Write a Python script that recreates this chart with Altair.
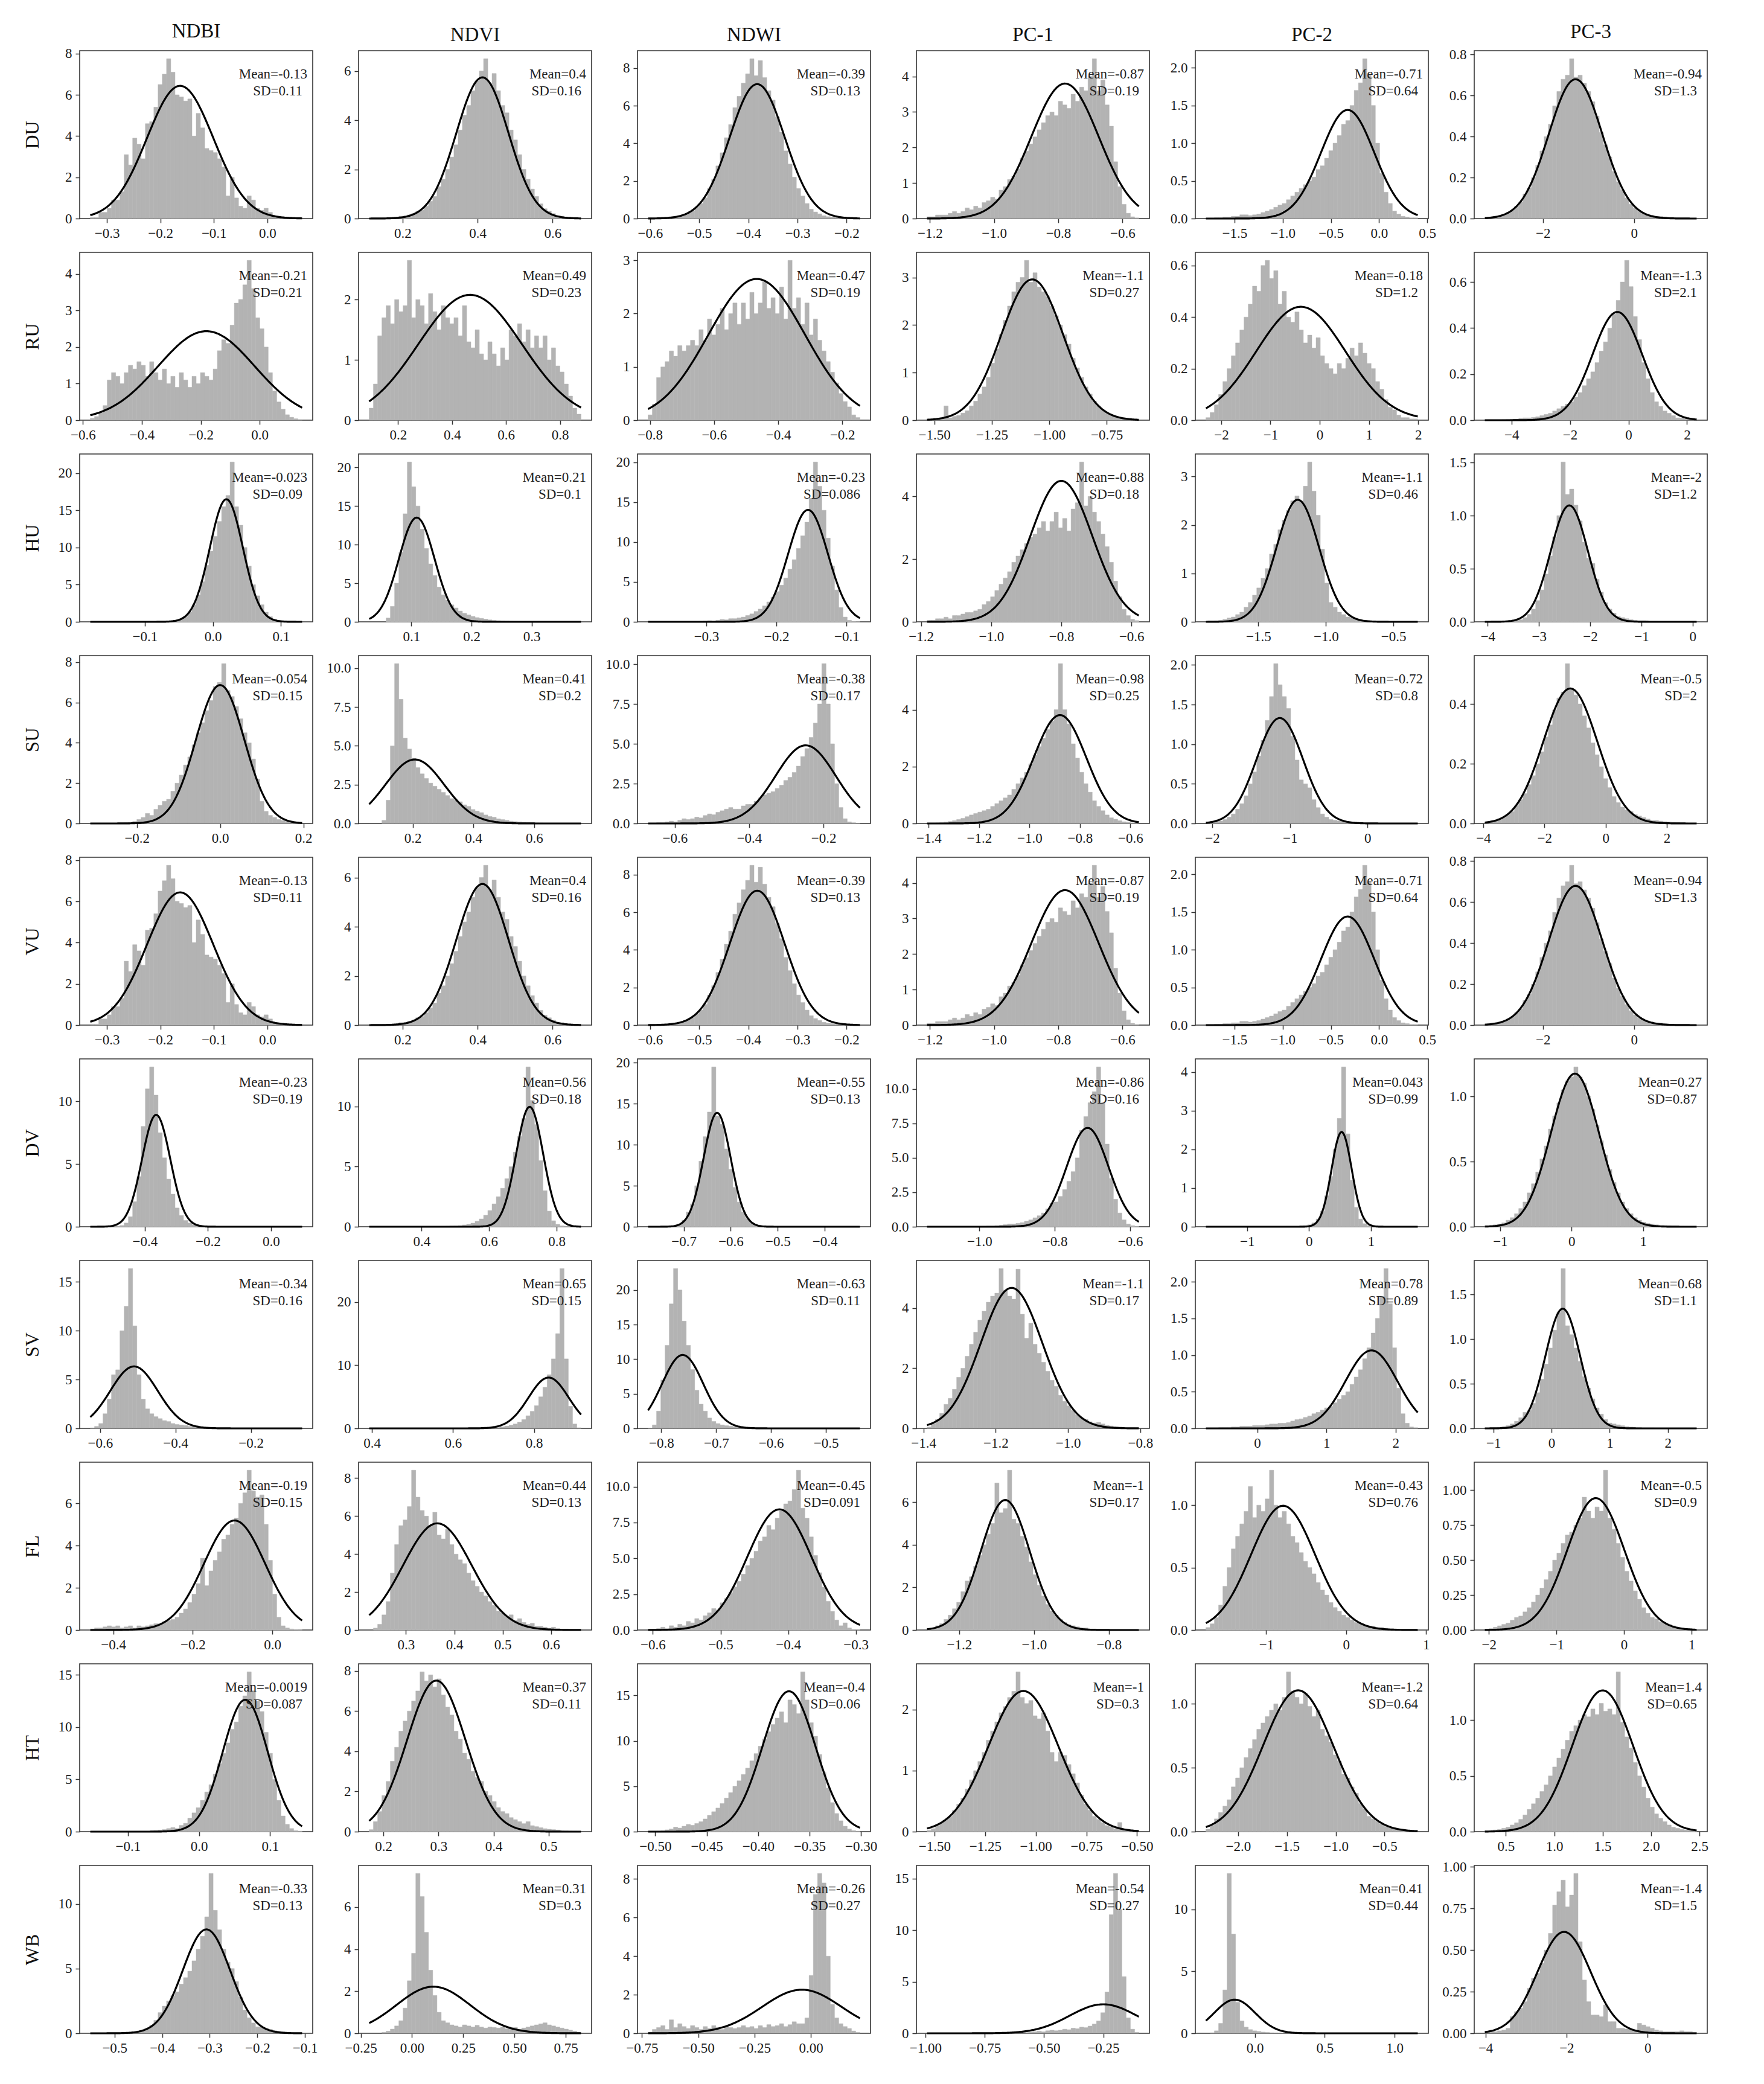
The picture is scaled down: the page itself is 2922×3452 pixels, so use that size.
import math
import altair as alt
import pandas as pd

ROWS = ["DU", "RU", "HU", "SU", "VU", "DV", "SV", "FL", "HT", "WB"]
COLS = ["NDBI", "NDVI", "NDWI", "PC-1", "PC-2", "PC-3"]
KEYS = ["NDBI", "NDVI", "NDWI", "PC1", "PC2", "PC3"]

# ---------------- DU ----------------
DU_NDBI = [0.05,0.05,0.3,0.3,0.5,0.9,0.9,1.3,3.1,2.6, 3.9,3.6,2.9,4.6,4.7,5.4,6.5,7.0,7.75,7.1, 6.0,5.9,5.7,5.8,4.0,5.1,4.4,3.4,3.3,3.2, 2.9,2.5,1.1,2.0,1.0,0.6,0.5,1.1,0.9,0.5, 0.4,0.5,0.3,0.1,0.1,0.05,0.05,0.05,0.0,0.02]
DU_NDVI = [0,0,0,0.02,0.02,0.05,0.05,0.1,0.1,0.15, 0.2,0.3,0.35,0.5,0.7,0.9,1.3,1.6,2.0,2.5, 3.0,3.6,4.2,4.6,5.2,5.6,6.0,6.5,5.5,5.9, 5.2,4.6,4.3,3.6,3.2,2.6,2.0,1.6,1.2,0.9, 0.6,0.4,0.3,0.2,0.1,0.1,0.05,0.02,0.02,0.01]
DU_NDWI = [0.02,0.02,0.05,0.05,0.05,0.1,0.1,0.15,0.2,0.3, 0.4,0.6,0.8,1.1,1.6,2.1,2.8,3.5,4.3,5.0, 5.9,6.5,7.2,7.7,8.5,7.6,8.4,7.5,6.8,6.3, 5.4,4.6,3.6,2.9,2.2,1.6,1.2,0.8,0.5,0.35, 0.25,0.15,0.1,0.08,0.05,0.03,0.02,0.02,0.01,0.01]
DU_PC1 = [0.05,0.05,0.1,0.1,0.1,0.15,0.2,0.15,0.2,0.3, 0.25,0.35,0.3,0.45,0.5,0.6,0.55,0.8,0.9,1.1, 1.2,1.4,1.7,1.9,2.1,2.3,2.5,2.7,2.9,3.0, 2.9,3.3,3.2,3.1,3.5,3.3,3.7,3.6,4.0,4.5, 3.6,3.9,3.2,2.6,1.6,0.9,0.4,0.15,0.05,0.02]
DU_PC2 = [0,0,0.01,0.01,0.02,0.02,0.03,0.03,0.05,0.05, 0.04,0.05,0.06,0.08,0.1,0.12,0.15,0.18,0.2,0.25, 0.3,0.35,0.4,0.45,0.5,0.55,0.65,0.7,0.8,0.9, 1.0,1.1,1.25,1.3,1.5,1.7,1.8,2.12,1.9,1.5, 1.0,0.6,0.35,0.2,0.1,0.06,0.03,0.02,0.01,0.01]
DU_PC3 = [0.002,0.005,0.01,0.01,0.02,0.03,0.04,0.06,0.08,0.12, 0.15,0.2,0.26,0.33,0.4,0.46,0.55,0.62,0.68,0.7, 0.78,0.69,0.7,0.66,0.62,0.57,0.5,0.42,0.36,0.3, 0.23,0.18,0.14,0.1,0.07,0.05,0.035,0.025,0.02,0.015, 0.01,0.01,0.008,0.005,0.005,0.003,0.002,0.002,0.001,0.001]
DU_RANGE = [(-0.331, 0.065), (0.111, 0.676), (-0.604, -0.173), (-1.209, -0.549), (-1.797, 0.402), (-3.274, 1.373)]
DU_FIT = [(-0.163, 0.062), (0.413, 0.0695), (-0.382, 0.0558), (-0.779, 0.105), (-0.326, 0.277), (-1.284, 0.587)]
DU_MEAN = ["-0.13", "0.4", "-0.39", "-0.87", "-0.71", "-0.94"]
DU_SD = ["0.11", "0.16", "0.13", "0.19", "0.64", "1.3"]
DU_XTICKS = [[-0.3,-0.2,-0.1,0.0], [0.2,0.4,0.6], [-0.6,-0.5,-0.4,-0.3,-0.2], [-1.2,-1.0,-0.8,-0.6], [-1.5,-1.0,-0.5,0.0,0.5], [-2,0]]
DU_YTICKS = [[0,2,4,6,8], [0,2,4,6], [0,2,4,6,8], [0,1,2,3,4], [0.0,0.5,1.0,1.5,2.0], [0.0,0.2,0.4,0.6,0.8]]

# ---------------- RU ----------------
RU_NDBI = [0.05,0.1,0.2,0.4,1.1,1.3,1.2,1.0,1.3,1.5, 1.4,1.6,1.5,1.2,1.6,1.3,1.1,1.4,1.0,1.2, 0.9,1.3,1.1,0.9,1.2,1.0,1.3,1.2,1.1,1.4, 1.9,2.2,2.1,2.6,3.2,3.3,3.7,4.37,3.6,2.8, 2.5,2.0,1.3,0.8,0.5,0.3,0.15,0.08,0.04,0.02]
RU_NDVI = [0.2,0.6,1.4,1.7,1.9,1.6,2.0,1.8,1.9,2.65, 1.7,2.0,1.9,1.6,2.1,1.8,1.5,1.9,1.7,1.6, 1.7,1.4,1.9,1.3,1.2,1.5,1.1,1.0,1.3,1.1, 0.9,1.2,1.0,1.5,1.4,1.6,1.3,1.5,1.2,1.4, 1.2,1.4,1.0,1.2,0.9,0.8,0.6,0.4,0.2,0.1]
RU_NDWI = [0.1,0.3,0.8,1.0,1.1,1.3,1.2,1.4,1.3,1.4, 1.5,1.4,1.7,1.5,1.9,1.6,1.8,2.1,1.7,2.0, 2.2,1.8,2.2,1.9,2.4,2.0,2.2,2.6,2.1,2.3, 2.0,2.5,1.9,3.0,2.1,2.3,1.8,2.2,1.6,1.9, 1.5,1.3,1.1,0.9,0.7,0.5,0.35,0.25,0.1,0.05]
RU_PC1 = [0.01,0.02,0.02,0.05,0.3,0.05,0.08,0.1,0.15,0.2, 0.3,0.4,0.55,0.7,0.9,1.2,1.5,1.8,2.1,2.4, 2.7,2.9,3.0,3.36,2.9,3.1,2.8,2.7,2.6,2.4, 2.2,2.0,1.8,1.6,1.3,1.1,0.9,0.7,0.55,0.4, 0.3,0.22,0.15,0.1,0.07,0.05,0.03,0.02,0.01,0.01]
RU_PC2 = [0.01,0.03,0.06,0.1,0.15,0.2,0.25,0.3,0.35,0.4, 0.45,0.52,0.5,0.6,0.62,0.55,0.58,0.45,0.5,0.4, 0.38,0.42,0.35,0.3,0.33,0.28,0.32,0.25,0.22,0.2, 0.18,0.22,0.2,0.24,0.28,0.25,0.3,0.26,0.22,0.2, 0.15,0.12,0.08,0.05,0.04,0.02,0.01,0.01,0.005,0.005]
RU_PC3 = [0,0,0,0,0.002,0.003,0.005,0.005,0.008,0.01, 0.01,0.012,0.015,0.02,0.025,0.03,0.04,0.05,0.06,0.07, 0.08,0.1,0.12,0.15,0.18,0.21,0.25,0.3,0.34,0.4, 0.46,0.52,0.6,0.694,0.58,0.45,0.35,0.25,0.18,0.12, 0.08,0.06,0.04,0.03,0.02,0.01,0.008,0.005,0.003,0.002]
RU_RANGE = [(-0.575, 0.144), (0.093, 0.878), (-0.806, -0.145), (-1.532, -0.610), (-2.311, 1.991), (-4.91, 2.33)]
RU_FIT = [(-0.181, 0.164), (0.467, 0.192), (-0.467, 0.1505), (-1.074, 0.1348), (-0.383, 0.907), (-0.38, 0.849)]
RU_MEAN = ["-0.21", "0.49", "-0.47", "-1.1", "-0.18", "-1.3"]
RU_SD = ["0.21", "0.23", "0.19", "0.27", "1.2", "2.1"]
RU_XTICKS = [[-0.6,-0.4,-0.2,0.0], [0.2,0.4,0.6,0.8], [-0.8,-0.6,-0.4,-0.2], [-1.50,-1.25,-1.00,-0.75], [-2,-1,0,1,2], [-4,-2,0,2]]
RU_YTICKS = [[0,1,2,3,4], [0,1,2], [0,1,2,3], [0,1,2,3], [0.0,0.2,0.4,0.6], [0.0,0.2,0.4,0.6]]

# ---------------- HU ----------------
HU_NDBI = [0,0,0,0,0,0,0,0,0,0, 0,0,0,0,0.01,0.01,0.02,0.03,0.05,0.1, 0.2,0.4,0.7,1.3,2.3,3.6,5.4,7.6,9.5,11.5, 13.5,15.5,17.0,21.5,15.5,13.0,10.0,7.5,5.0,3.5, 2.3,1.3,0.7,0.35,0.2,0.1,0.05,0.03,0.02,0.01]
HU_NDVI = [0,0,0,0,0.5,2.0,5.0,9.0,14.0,20.7, 17.5,15.0,12.0,9.5,7.5,6.0,4.5,3.5,2.8,2.2, 1.8,1.4,1.1,0.9,0.7,0.55,0.45,0.35,0.25,0.2, 0.15,0.12,0.1,0.08,0.06,0.05,0.04,0.03,0.02,0.02, 0.01,0.01,0.01,0.01,0.01,0.005,0.005,0.005,0.005,0.005]
HU_NDWI = [0,0,0,0,0,0,0,0,0,0.01, 0.02,0.03,0.05,0.1,0.15,0.1,0.2,0.3,0.25,0.4, 0.4,0.5,0.6,0.8,1.0,1.3,1.6,2.0,2.5,3.1, 3.8,4.6,5.5,6.6,7.8,9.2,10.8,12.5,15.5,20.05, 17.0,14.0,10.5,7.0,4.0,1.8,0.6,0.2,0.05,0.02]
HU_PC1 = [0.05,0.05,0.1,0.1,0.15,0.1,0.2,0.2,0.25,0.3, 0.3,0.35,0.4,0.55,0.65,0.8,1.0,1.2,1.4,1.6, 1.9,2.1,2.3,2.5,2.7,2.8,3.0,3.2,2.9,3.2, 3.5,3.0,3.3,2.9,3.6,3.8,5.1,3.7,4.0,3.5, 3.2,2.8,2.4,1.9,1.3,0.8,0.4,0.2,0.08,0.04]
HU_PC2 = [0,0.01,0.02,0.03,0.05,0.08,0.1,0.15,0.2,0.3, 0.4,0.55,0.7,0.9,1.1,1.4,1.6,1.9,2.1,2.3, 2.5,2.6,2.5,2.8,3.3,2.7,2.2,1.5,0.8,0.4, 0.3,0.2,0.15,0.1,0.08,0.05,0.04,0.03,0.02,0.02, 0.01,0.01,0.01,0.005,0.005,0,0,0,0,0]
HU_PC3 = [0,0,0,0.005,0.005,0.01,0.01,0.02,0.02,0.04, 0.07,0.12,0.2,0.3,0.45,0.62,0.8,1.0,1.505,1.2, 1.25,1.1,0.95,0.75,0.6,0.55,0.4,0.28,0.18,0.12, 0.08,0.05,0.04,0.03,0.02,0.015,0.01,0.01,0.005,0.005, 0.005,0.003,0.002,0.002,0.001,0.001,0,0,0,0]
HU_RANGE = [(-0.180, 0.131), (0.030, 0.382), (-0.383, -0.081), (-1.183, -0.579), (-1.888, -0.320), (-4.057, 0.079)]
HU_FIT = [(0.0198, 0.0242), (0.109, 0.02955), (-0.155, 0.0284), (-0.80, 0.0887), (-1.208, 0.1583), (-2.407, 0.364)]
HU_MEAN = ["-0.023", "0.21", "-0.23", "-0.88", "-1.1", "-2"]
HU_SD = ["0.09", "0.1", "0.086", "0.18", "0.46", "1.2"]
HU_XTICKS = [[-0.1,0.0,0.1], [0.1,0.2,0.3], [-0.3,-0.2,-0.1], [-1.2,-1.0,-0.8,-0.6], [-1.5,-1.0,-0.5], [-4,-3,-2,-1,0]]
HU_YTICKS = [[0,5,10,15,20], [0,5,10,15,20], [0,5,10,15,20], [0,2,4], [0,1,2,3], [0.0,0.5,1.0,1.5]]

# ---------------- SU ----------------
SU_NDBI = [0,0,0,0,0,0,0.01,0.02,0.03,0.05, 0.1,0.2,0.3,0.5,0.4,0.7,0.9,1.1,1.2,1.6, 2.0,2.4,2.9,3.3,3.9,4.5,5.0,5.6,6.1,6.8, 7.0,7.93,6.6,6.3,5.8,5.2,4.5,4.0,3.2,2.2, 1.1,0.6,0.4,0.3,0.2,0.15,0.1,0.05,0.03,0.02]
SU_NDVI = [0,0,0,0.2,1.5,5.0,10.3,8.0,5.5,4.8, 4.2,3.6,3.2,2.9,2.6,2.4,2.2,2.0,1.8,1.6, 1.5,1.4,1.2,1.1,0.9,0.8,0.7,0.55,0.45,0.4, 0.3,0.25,0.2,0.15,0.12,0.1,0.08,0.06,0.05,0.04, 0.03,0.02,0.02,0.01,0.01,0.01,0.005,0.005,0.005,0.005]
SU_NDWI = [0,0.02,0.05,0.05,0.1,0.15,0.1,0.2,0.3,0.25, 0.3,0.4,0.35,0.5,0.6,0.55,0.7,0.8,0.9,1.0, 0.9,0.9,1.1,1.2,1.2,1.4,1.6,1.8,1.9,2.0, 2.2,2.4,2.7,2.9,3.2,3.6,4.2,4.7,5.4,6.3, 7.5,10.03,7.5,5.0,2.5,1.0,0.3,0.1,0.05,0.02]
SU_PC1 = [0,0.01,0.02,0.03,0.05,0.07,0.1,0.14,0.18,0.24, 0.3,0.35,0.4,0.45,0.5,0.6,0.7,0.8,0.9,1.0, 1.2,1.4,1.6,1.8,2.1,2.4,2.7,3.0,3.3,3.6, 4.0,5.62,4.0,3.5,2.8,2.3,1.8,1.4,1.1,0.8, 0.6,0.45,0.3,0.2,0.15,0.1,0.06,0.04,0.02,0.01]
SU_PC2 = [0,0.01,0.02,0.03,0.05,0.08,0.12,0.18,0.25,0.35, 0.5,0.65,0.85,1.05,1.3,1.6,2.016,1.75,1.6,1.45, 1.1,0.8,0.55,0.5,0.45,0.3,0.2,0.12,0.08,0.05, 0.04,0.03,0.02,0.02,0.01,0.01,0.01,0.005,0.005,0.005, 0.005,0.003,0.002,0.002,0.001,0,0,0,0,0]
SU_PC3 = [0.003,0.006,0.01,0.015,0.02,0.03,0.04,0.06,0.08,0.1, 0.13,0.16,0.2,0.24,0.29,0.33,0.38,0.42,0.44,0.535, 0.45,0.43,0.4,0.36,0.32,0.27,0.23,0.19,0.15,0.12, 0.09,0.07,0.055,0.045,0.04,0.03,0.025,0.02,0.015,0.01, 0.01,0.008,0.006,0.005,0.004,0.003,0.002,0.002,0.001,0.001]
SU_RANGE = [(-0.312, 0.197), (0.057, 0.754), (-0.672, -0.102), (-1.407, -0.566), (-2.081, 0.646), (-3.948, 2.974)]
SU_FIT = [(0.0, 0.0581), (0.207, 0.0968), (-0.248, 0.0814), (-0.879, 0.1047), (-1.13, 0.30), (-1.154, 0.883)]
SU_MEAN = ["-0.054", "0.41", "-0.38", "-0.98", "-0.72", "-0.5"]
SU_SD = ["0.15", "0.2", "0.17", "0.25", "0.8", "2"]
SU_XTICKS = [[-0.2,0.0,0.2], [0.2,0.4,0.6], [-0.6,-0.4,-0.2], [-1.4,-1.2,-1.0,-0.8,-0.6], [-2,-1,0], [-4,-2,0,2]]
SU_YTICKS = [[0,2,4,6,8], [0.0,2.5,5.0,7.5,10.0], [0.0,2.5,5.0,7.5,10.0], [0,2,4], [0.0,0.5,1.0,1.5,2.0], [0.0,0.2,0.4]]

# ---------------- VU (identical to DU in the source figure) ----------------
VU_NDBI, VU_NDVI, VU_NDWI = DU_NDBI, DU_NDVI, DU_NDWI
VU_PC1, VU_PC2, VU_PC3 = DU_PC1, DU_PC2, DU_PC3
VU_RANGE, VU_FIT, VU_MEAN, VU_SD = DU_RANGE, DU_FIT, DU_MEAN, DU_SD
VU_XTICKS, VU_YTICKS = DU_XTICKS, DU_YTICKS

# ---------------- DV ----------------
DV_NDBI = [0,0,0,0,0.01,0.02,0.05,0.1,0.3,0.8, 2.0,4.0,8.0,11.0,12.75,10.5,7.5,5.5,3.8,2.6, 1.5,0.9,0.5,0.3,0.15,0.1,0.05,0.03,0.02,0.01, 0.01,0.01,0.005,0.005,0,0,0,0,0,0.005, 0,0,0,0,0,0,0,0,0,0]
DV_NDVI = [0,0,0,0,0,0,0,0,0,0, 0,0,0,0.01,0.01,0.02,0.02,0.03,0.05,0.07, 0.08,0.1,0.15,0.2,0.3,0.45,0.65,0.95,1.35,1.9, 2.5,3.2,4.0,5.0,6.2,7.5,9.0,13.29,10.5,8.5, 5.5,3.0,1.3,0.5,0.2,0.08,0.04,0.02,0.01,0.01]
DV_NDWI = [0,0,0,0,0.02,0.05,0.1,0.3,0.8,1.8, 2.8,5.0,8.0,11.0,14.0,19.5,13.5,12.5,9.5,7.0, 4.8,3.0,1.8,1.0,0.5,0.25,0.12,0.06,0.04,0.02, 0.02,0.01,0.01,0.01,0,0,0,0,0,0, 0,0,0,0,0,0,0,0,0,0]
DV_PC1 = [0,0,0,0,0,0,0,0,0,0.01, 0.01,0.02,0.02,0.03,0.05,0.05,0.08,0.1,0.15,0.2, 0.2,0.25,0.3,0.4,0.5,0.65,0.8,1.0,1.3,1.7, 1.8,2.2,2.7,3.3,4.0,5.0,7.0,8.0,9.0,9.8, 11.6,9.0,6.0,3.5,2.0,1.0,0.5,0.2,0.08,0.03]
DV_PC2 = [0,0,0,0,0,0,0,0,0,0, 0,0,0,0,0,0,0,0,0.005,0.01, 0.01,0.01,0.02,0.03,0.05,0.1,0.2,0.4,0.8,1.3, 2.0,2.8,4.13,2.4,1.2,0.5,0.2,0.08,0.03,0.01, 0.01,0.005,0,0,0,0,0,0,0,0]
DV_PC3 = [0.005,0.01,0.015,0.02,0.03,0.05,0.07,0.1,0.14,0.19, 0.26,0.33,0.42,0.52,0.62,0.75,0.85,0.95,1.05,1.12, 1.15,1.226,1.15,1.1,1.0,0.9,0.78,0.66,0.55,0.44, 0.34,0.26,0.19,0.14,0.1,0.07,0.05,0.035,0.025,0.02, 0.015,0.01,0.01,0.008,0.006,0.005,0.004,0.003,0.002,0.001]
DV_RANGE = [(-0.573, 0.099), (0.245, 0.872), (-0.776, -0.325), (-1.139, -0.577), (-1.665, 1.756), (-1.214, 1.75)]
DV_FIT = [(-0.364, 0.0447), (0.72, 0.040), (-0.629, 0.0287), (-0.713, 0.0556), (0.527, 0.163), (0.047, 0.3396)]
DV_MEAN = ["-0.23", "0.56", "-0.55", "-0.86", "0.043", "0.27"]
DV_SD = ["0.19", "0.18", "0.13", "0.16", "0.99", "0.87"]
DV_XTICKS = [[-0.4,-0.2,0.0], [0.4,0.6,0.8], [-0.7,-0.6,-0.5,-0.4], [-1.0,-0.8,-0.6], [-1,0,1], [-1,0,1]]
DV_YTICKS = [[0,5,10], [0,5,10], [0,5,10,15,20], [0.0,2.5,5.0,7.5,10.0], [0,1,2,3,4], [0.0,0.5,1.0]]

# ---------------- SV ----------------
SV_NDBI = [0.05,0.2,0.5,1.5,3.0,5.5,6.0,10.0,12.5,16.37, 10.5,5.5,3.0,2.0,1.5,1.2,1.0,0.8,0.7,0.5, 0.4,0.35,0.3,0.2,0.15,0.1,0.08,0.06,0.05,0.04, 0.03,0.02,0.02,0.01,0.01,0.01,0.005,0.005,0.005,0.005, 0,0,0,0,0,0,0,0,0,0]
SV_NDVI = [0,0,0,0,0,0,0,0,0,0, 0,0,0,0,0,0,0,0,0,0, 0,0,0.01,0.01,0.02,0.03,0.05,0.07,0.1,0.15, 0.15,0.25,0.35,0.5,0.7,1.0,1.4,2.0,2.7,3.6, 5.0,6.5,8.5,11.0,15.0,25.3,11.0,3.5,0.7,0.1]
SV_NDWI = [0.05,0.5,2.5,7.0,12.0,18.0,23.1,20.0,15.5,12.0, 8.5,5.5,3.5,2.5,1.5,1.0,0.7,0.5,0.4,0.3, 0.25,0.2,0.15,0.12,0.1,0.08,0.06,0.05,0.04,0.03, 0.02,0.02,0.01,0.01,0.01,0.005,0.005,0,0,0, 0,0,0,0,0,0,0,0,0,0]
SV_PC1 = [0.05,0.15,0.3,0.5,0.8,1.0,1.3,1.7,2.0,2.4, 2.8,3.2,3.6,3.9,4.2,4.4,4.5,5.32,4.6,4.4, 4.3,5.3,3.8,3.0,3.5,2.8,2.5,2.2,1.9,1.6, 1.4,1.1,0.9,0.75,0.6,0.45,0.35,0.3,0.22,0.18, 0.2,0.15,0.1,0.08,0.06,0.05,0.03,0.02,0.02,0.01]
SV_PC2 = [0,0,0,0.01,0.01,0.01,0.02,0.02,0.03,0.03, 0.03,0.04,0.04,0.04,0.05,0.06,0.06,0.07,0.07,0.08, 0.1,0.12,0.13,0.15,0.17,0.2,0.22,0.25,0.28,0.3, 0.35,0.4,0.45,0.5,0.6,0.7,0.8,0.95,1.1,1.3, 1.5,1.8,2.18,1.7,1.1,0.55,0.2,0.07,0.02,0.01]
SV_PC3 = [0,0,0.005,0.01,0.02,0.03,0.05,0.08,0.12,0.18, 0.2,0.28,0.4,0.55,0.72,0.9,1.1,1.3,1.79,1.15, 1.05,0.9,0.75,0.58,0.45,0.33,0.23,0.16,0.1,0.06, 0.05,0.04,0.03,0.02,0.015,0.01,0.01,0.005,0.005,0.005, 0.003,0.002,0.002,0.001,0.001,0,0,0,0,0]
SV_RANGE = [(-0.626, -0.064), (0.393, 0.916), (-0.824, -0.438), (-1.39, -0.804), (-0.741, 2.319), (-1.147, 2.495)]
SV_FIT = [(-0.510, 0.0629), (0.836, 0.0496), (-0.761, 0.0376), (-1.156, 0.0853), (1.65, 0.375), (0.193, 0.2977)]
SV_MEAN = ["-0.34", "0.65", "-0.63", "-1.1", "0.78", "0.68"]
SV_SD = ["0.16", "0.15", "0.11", "0.17", "0.89", "1.1"]
SV_XTICKS = [[-0.6,-0.4,-0.2], [0.4,0.6,0.8], [-0.8,-0.7,-0.6,-0.5], [-1.4,-1.2,-1.0,-0.8], [0,1,2], [-1,0,1,2]]
SV_YTICKS = [[0,5,10,15], [0,10,20], [0,5,10,15,20], [0,2,4], [0.0,0.5,1.0,1.5,2.0], [0.0,0.5,1.0,1.5]]

# ---------------- FL ----------------
FL_NDBI = [0.05,0.1,0.1,0.15,0.2,0.15,0.2,0.1,0.15,0.2, 0.1,0.2,0.15,0.2,0.25,0.3,0.3,0.4,0.45,0.5, 0.6,0.8,1.0,1.3,1.7,2.2,3.4,2.1,2.8,3.3, 3.7,4.3,4.5,5.0,5.3,6.0,6.5,7.57,6.6,6.3, 6.4,5.0,3.3,1.7,0.6,0.2,0.1,0.05,0.02,0.01]
FL_NDVI = [0,0.1,0.3,0.8,1.5,3.0,4.5,5.5,5.8,6.5, 8.42,7.0,6.3,6.0,5.5,6.2,5.0,4.8,5.3,4.5, 4.0,3.7,3.5,3.0,2.6,2.3,2.0,1.8,1.5,1.3, 1.0,0.9,0.7,0.8,0.5,0.6,0.4,0.3,0.35,0.2, 0.2,0.15,0.1,0.15,0.08,0.05,0.05,0.03,0.02,0.01]
FL_NDWI = [0,0.05,0.1,0.2,0.1,0.3,0.2,0.4,0.3,0.6, 0.5,0.8,0.7,1.0,1.2,1.5,1.4,1.9,2.2,2.6, 3.0,3.4,3.9,4.5,5.0,5.5,6.2,6.5,7.3,7.0, 7.8,8.3,8.8,9.0,9.8,11.15,8.5,7.8,6.5,5.2, 4.0,3.0,2.0,1.3,0.7,0.3,0.5,0.15,0.05,0.02]
FL_PC1 = [0.05,0.1,0.2,0.3,0.5,0.7,1.0,1.3,1.8,2.3, 2.5,3.0,3.5,4.0,4.5,5.0,6.9,5.5,5.7,7.5, 5.2,5.0,4.4,3.9,3.2,2.6,2.1,1.6,1.2,0.9, 0.7,0.5,0.35,0.25,0.2,0.15,0.1,0.1,0.05,0.05, 0.03,0.02,0.02,0.01,0.01,0.01,0.005,0.005,0,0]
FL_PC2 = [0.02,0.05,0.1,0.2,0.35,0.5,0.65,0.75,0.85,0.95, 1.15,0.9,1.0,0.95,1.05,1.28,1.0,0.9,0.95,0.85, 0.75,0.7,0.62,0.55,0.5,0.45,0.38,0.32,0.28,0.22, 0.18,0.15,0.12,0.1,0.08,0.06,0.05,0.04,0.03,0.03, 0.02,0.02,0.015,0.01,0.01,0.005,0.005,0.005,0.003,0.002]
FL_PC3 = [0,0.01,0.02,0.03,0.04,0.05,0.07,0.09,0.1,0.13, 0.16,0.2,0.25,0.3,0.36,0.42,0.5,0.55,0.62,0.68, 0.7,0.75,0.8,0.95,0.85,0.8,0.88,0.85,1.143,0.8, 0.72,0.62,0.52,0.42,0.35,0.28,0.22,0.16,0.12,0.09, 0.08,0.06,0.05,0.04,0.03,0.02,0.015,0.01,0.01,0.005]
FL_RANGE = [(-0.458, 0.075), (0.224, 0.662), (-0.607, -0.294), (-1.286, -0.720), (-1.754, 0.896), (-2.06, 1.076)]
FL_FIT = [(-0.095, 0.0769), (0.365, 0.071), (-0.413, 0.0474), (-1.077, 0.0654), (-0.789, 0.401), (-0.417, 0.423)]
FL_MEAN = ["-0.19", "0.44", "-0.45", "-1", "-0.43", "-0.5"]
FL_SD = ["0.15", "0.13", "0.091", "0.17", "0.76", "0.9"]
FL_XTICKS = [[-0.4,-0.2,0.0], [0.3,0.4,0.5,0.6], [-0.6,-0.5,-0.4,-0.3], [-1.2,-1.0,-0.8], [-1,0,1], [-2,-1,0,1]]
FL_YTICKS = [[0,2,4,6], [0,2,4,6,8], [0.0,2.5,5.0,7.5,10.0], [0,2,4,6], [0.0,0.5,1.0], [0.00,0.25,0.50,0.75,1.00]]

# ---------------- HT ----------------
HT_NDBI = [0,0,0,0,0,0,0,0,0,0, 0,0.01,0.02,0.03,0.05,0.1,0.15,0.2,0.3,0.4, 0.3,0.6,0.8,1.3,1.8,2.3,3.0,3.8,4.5,5.5, 6.5,7.5,8.5,9.8,10.5,12.0,13.0,15.3,13.5,12.5, 11.5,9.5,7.5,5.0,3.0,1.5,0.7,0.3,0.1,0.05]
HT_NDVI = [0.1,0.5,1.0,1.8,2.5,3.5,4.2,5.0,5.5,6.0, 6.5,7.0,7.95,7.5,7.8,7.2,7.6,6.8,6.2,5.8, 5.0,4.6,3.9,3.6,3.0,2.7,2.5,2.0,1.8,1.5, 1.2,1.0,0.9,0.7,0.6,0.5,0.4,0.5,0.3,0.25, 0.2,0.15,0.12,0.1,0.08,0.05,0.04,0.03,0.02,0.01]
HT_NDWI = [0,0,0.05,0.1,0.2,0.3,0.5,0.4,0.6,0.8, 0.7,0.9,1.1,1.4,1.8,2.2,2.6,3.1,3.7,4.3, 5.0,5.6,6.3,7.0,7.8,8.6,9.4,10.2,11.0,11.8, 12.5,13.2,12.0,14.5,14.0,13.0,17.6,14.5,12.0,10.5, 8.5,6.5,4.8,3.2,2.0,1.2,0.6,0.3,0.12,0.05]
HT_PC1 = [0.02,0.05,0.1,0.15,0.2,0.25,0.35,0.45,0.55,0.7, 0.85,1.0,1.15,1.3,1.5,1.65,1.8,1.95,2.05,2.2, 2.3,2.62,2.2,2.1,2.15,1.9,1.85,1.95,1.65,1.3, 1.15,1.3,1.25,1.1,0.95,0.8,0.6,0.45,0.35,0.25, 0.2,0.15,0.1,0.08,0.05,0.15,0.03,0.02,0.01,0.01]
HT_PC2 = [0.02,0.05,0.1,0.15,0.2,0.25,0.35,0.42,0.5,0.58, 0.65,0.72,0.8,0.85,0.9,0.95,1.0,0.95,1.05,1.25, 1.1,1.05,1.0,1.08,0.98,0.9,0.95,0.8,0.75,0.7, 0.6,0.55,0.45,0.42,0.35,0.3,0.22,0.18,0.12,0.1, 0.08,0.06,0.04,0.03,0.02,0.015,0.01,0.01,0.005,0.005]
HT_PC3 = [0.005,0.01,0.015,0.02,0.03,0.04,0.06,0.08,0.11,0.15, 0.2,0.25,0.3,0.36,0.42,0.5,0.58,0.66,0.74,0.82, 0.9,0.95,1.0,1.05,1.03,1.1,1.05,1.15,1.08,1.1, 1.05,1.433,0.98,0.85,0.75,0.62,0.5,0.4,0.3,0.22, 0.16,0.12,0.09,0.06,0.04,0.03,0.02,0.015,0.01,0.005]
HT_RANGE = [(-0.153, 0.145), (0.174, 0.559), (-0.507, -0.301), (-1.537, -0.491), (-2.330, -0.159), (0.283, 2.471)]
HT_FIT = [(0.065, 0.0316), (0.296, 0.0531), (-0.370, 0.0258), (-1.061, 0.173), (-1.385, 0.361), (1.5, 0.315)]
HT_MEAN = ["-0.0019", "0.37", "-0.4", "-1", "-1.2", "1.4"]
HT_SD = ["0.087", "0.11", "0.06", "0.3", "0.64", "0.65"]
HT_XTICKS = [[-0.1,0.0,0.1], [0.2,0.3,0.4,0.5], [-0.50,-0.45,-0.40,-0.35,-0.30], [-1.50,-1.25,-1.00,-0.75,-0.50], [-2.0,-1.5,-1.0,-0.5], [0.5,1.0,1.5,2.0,2.5]]
HT_YTICKS = [[0,5,10,15], [0,2,4,6,8], [0,5,10,15], [0,1,2], [0.0,0.5,1.0], [0.0,0.5,1.0]]

# ---------------- WB ----------------
WB_NDBI = [0,0,0,0,0,0,0.01,0.02,0.03,0.05, 0.08,0.15,0.25,0.4,0.6,1.0,1.6,2.1,2.5,2.9, 3.2,3.8,4.3,4.8,5.6,6.5,7.5,9.0,12.35,9.5, 8.0,6.5,5.5,5.0,4.0,2.8,1.8,1.2,0.8,0.5, 0.5,0.4,0.3,0.2,0.15,0.1,0.08,0.05,0.03,0.02]
WB_NDVI = [0,0,0,0.05,0.1,0.2,0.35,0.6,1.2,2.5, 3.8,7.6,6.5,4.8,3.0,1.8,1.0,0.6,0.5,0.4, 0.35,0.3,0.4,0.35,0.3,0.38,0.3,0.25,0.3,0.28, 0.25,0.3,0.22,0.25,0.28,0.2,0.25,0.3,0.35,0.4, 0.45,0.5,0.4,0.35,0.3,0.25,0.2,0.15,0.1,0.05]
WB_NDWI = [0.05,0.2,0.3,0.4,0.2,0.7,0.3,0.5,0.35,0.25, 0.4,0.3,0.2,0.35,0.25,0.4,0.3,0.2,0.35,0.3, 0.25,0.3,0.4,0.3,0.35,0.25,0.4,0.3,0.45,0.35, 0.4,0.5,0.35,0.45,0.6,0.5,0.5,0.8,3.0,7.2, 8.29,7.8,4.0,1.5,0.8,0.5,0.35,0.25,0.12,0.05]
WB_PC1 = [0,0,0,0,0,0,0,0,0,0, 0,0,0,0,0,0.01,0.01,0.02,0.02,0.03, 0.03,0.05,0.05,0.08,0.1,0.15,0.2,0.15,0.25,0.3, 0.25,0.3,0.4,0.35,0.5,0.45,0.6,0.55,0.7,0.9, 1.2,2.0,4.0,11.5,15.5,12.0,5.5,1.5,0.4,0.1]
WB_PC2 = [0,0.05,0.2,0.8,3.5,12.9,8.0,2.5,1.0,0.5, 0.3,0.2,0.15,0.1,0.08,0.05,0.04,0.03,0.02,0.02, 0.01,0.01,0.01,0.01,0.005,0.005,0.005,0,0,0, 0,0,0,0,0,0,0,0,0,0, 0,0,0,0,0,0,0,0,0,0]
WB_PC3 = [0.005,0.01,0.01,0.015,0.02,0.03,0.1,0.13,0.15,0.19, 0.27,0.33,0.36,0.42,0.5,0.6,0.77,0.85,0.92,0.76, 0.83,0.96,0.55,0.32,0.19,0.11,0.11,0.1,0.17,0.07, 0.07,0.03,0.03,0.025,0.02,0.02,0.06,0.05,0.04,0.03, 0.02,0.015,0.01,0.01,0.01,0.01,0.015,0.01,0.01,0.005]
WB_RANGE = [(-0.551, -0.106), (-0.209, 0.825), (-0.723, 0.218), (-0.993, -0.100), (-0.351, 1.166), (-4.016, 1.211)]
WB_FIT = [(-0.307, 0.0497), (0.104, 0.18), (-0.04, 0.1765), (-0.25, 0.142), (-0.145, 0.147), (-2.06, 0.655)]
WB_MEAN = ["-0.33", "0.31", "-0.26", "-0.54", "0.41", "-1.4"]
WB_SD = ["0.13", "0.3", "0.27", "0.27", "0.44", "1.5"]
WB_XTICKS = [[-0.5,-0.4,-0.3,-0.2,-0.1], [-0.25,0.00,0.25,0.50,0.75], [-0.75,-0.50,-0.25,0.00], [-1.00,-0.75,-0.50,-0.25], [0.0,0.5,1.0], [-4,-2,0]]
WB_YTICKS = [[0,5,10], [0,2,4,6], [0,2,4,6,8], [0,5,10,15], [0,5,10], [0.00,0.25,0.50,0.75,1.00]]

# ---------------- layout / style ----------------
W, H = 386, 278
FONT = "Liberation Serif"
BAR = "#b3b3b3"


def decimals(vals):
    for d in range(4):
        if all(abs(v * 10 ** d - round(v * 10 ** d)) < 1e-6 for v in vals):
            return d
    return 3


def panel(ri, ci):
    row = ROWS[ri]
    g = globals()
    h = g[f"{row}_{KEYS[ci]}"]
    mn, mx = g[f"{row}_RANGE"][ci]
    mu, sd = g[f"{row}_FIT"][ci]
    n = len(h)
    w = (mx - mn) / n
    df = pd.DataFrame({
        "x0": [mn + i * w for i in range(n)],
        "x1": [mn + (i + 1) * w for i in range(n)],
        "h": h,
        "y0": [0.0] * n,
    })
    df = df[df["h"] > 0]
    span = mx - mn
    lo, hi = mn - 0.05 * span, mx + 0.05 * span
    peak = 1.0 / (sd * math.sqrt(2 * math.pi))
    ymax = 1.05 * max(max(h), peak)
    xt = [t for t in g[f"{row}_XTICKS"][ci] if lo <= t <= hi]
    yt = [t for t in g[f"{row}_YTICKS"][ci] if t <= ymax]

    xs = alt.Scale(domain=[lo, hi], nice=False, zero=False)
    ys = alt.Scale(domain=[0, ymax], nice=False, zero=False)
    xax = alt.Axis(values=xt, format=f".{decimals(xt)}f", title=None)
    if ci == 0:
        yax = alt.Axis(values=yt, format=f".{decimals(yt)}f", title=row,
                       titleX=-79, titleY=H / 2, titleAngle=270,
                       titleAlign="center", titleBaseline="middle")
    else:
        yax = alt.Axis(values=yt, format=f".{decimals(yt)}f", title=None)

    bars = alt.Chart(df).mark_rect(color=BAR, stroke=BAR, strokeWidth=0.5).encode(
        x=alt.X("x0:Q", scale=xs, axis=xax),
        x2="x1",
        y=alt.Y("h:Q", scale=ys, axis=yax),
        y2="y0",
    )
    curve = alt.Chart(alt.sequence(0, 201, as_="i")).transform_calculate(
        x0=f"{mn} + datum.i * {span / 200}"
    ).transform_calculate(
        h=f"exp(-0.5 * pow((datum.x0 - ({mu})) / {sd}, 2)) / ({sd} * 2.5066282746)"
    ).mark_line(color="black", strokeWidth=3.2).encode(
        x=alt.X("x0:Q", scale=xs, axis=xax),
        y=alt.Y("h:Q", scale=ys, axis=yax),
    )
    one = pd.DataFrame({"a": [0]})
    t1 = alt.Chart(one).mark_text(
        text="Mean=" + g[f"{row}_MEAN"][ci], align="right", baseline="middle",
        font=FONT, fontSize=23, color="#222222"
    ).encode(x=alt.value(W - 9), y=alt.value(39))
    t2 = alt.Chart(one).mark_text(
        text="SD=" + g[f"{row}_SD"][ci], align="right", baseline="middle",
        font=FONT, fontSize=23, color="#222222"
    ).encode(x=alt.value(W - 17), y=alt.value(67))

    layer = alt.layer(bars, curve, t1, t2)
    if ri == 0:
        layer = layer.properties(
            width=W, height=H,
            title=alt.TitleParams(text=COLS[ci], font=FONT, fontSize=33,
                                  fontWeight="normal", color="#111111",
                                  anchor="middle", offset=9),
        )
    else:
        layer = layer.properties(width=W, height=H)
    return layer


panels = [panel(r, c) for r in range(len(ROWS)) for c in range(len(COLS))]

chart = alt.ConcatChart(
    concat=panels,
    columns=6,
    spacing={"row": 56, "column": 76},
    bounds="flush",
    padding={"left": 28, "top": 26, "right": 10, "bottom": 10},
).resolve_scale(
    x="independent", y="independent"
).configure_view(
    stroke="#333333", strokeWidth=1.6
).configure_axis(
    labelFont=FONT, labelFontSize=23, labelColor="#1a1a1a",
    tickColor="#333333", tickWidth=1.5, tickSize=7, labelPadding=6,
    domain=False, grid=False, labelFlush=False, labelOverlap=False,
    titleFont=FONT, titleFontSize=32, titleFontWeight="normal", titleColor="#111111",
)

chart.save("out.html", embed_options={"renderer": "svg", "actions": False})
